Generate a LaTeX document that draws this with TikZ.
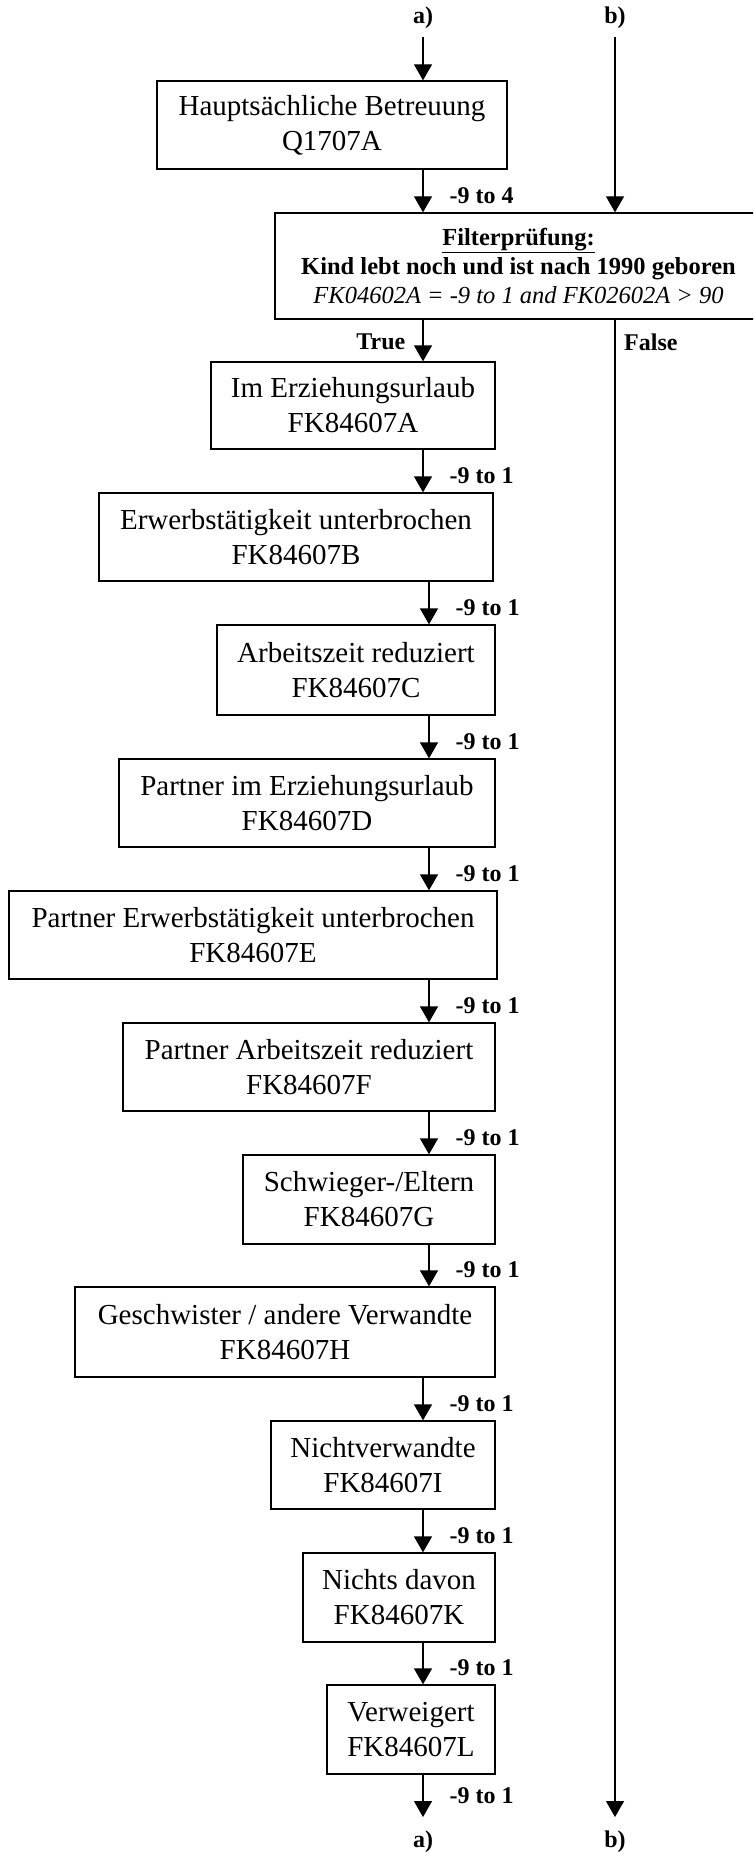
\documentclass[tikz,border=0pt]{standalone}
\usepackage{fontspec}
\setmainfont{Liberation Serif}
\usetikzlibrary{arrows.meta}
\tikzset{
  box/.style={draw, line width=1.3pt, align=center, inner sep=0pt, font=\fontsize{29}{35}\selectfont},
  arr/.style={line width=1.3pt, -{Triangle[length=16pt,width=18pt]}},
  lbl/.style={font=\fontsize{24}{29}\selectfont\bfseries, inner sep=0pt},
  edgelbl/.style={lbl, pos=0.6, anchor=west, xshift=26pt},
}
\begin{document}
\begin{tikzpicture}[x=1pt,y=-1pt]
\useasboundingbox (0,0) rectangle (753,1854);
\clip (0,0) rectangle (753,1854);
\coordinate (ax1) at (423,0);
\coordinate (ax2) at (429,0);
\coordinate (ta) at (423,37);
\coordinate (tb) at (615,37);
\coordinate (outa) at (423,1817);
\coordinate (outb) at (615,1817);

\node[lbl] (la) at (423,18) {a)};
\node[lbl] (lb) at (615,18) {b)};
\node[lbl] (la2) at (423,1842) {a)};
\node[lbl] (lb2) at (615,1842) {b)};

\node[box, minimum width=350, minimum height=88] (q) at (332,125) {Hauptsächliche Betreuung\\Q1707A};
\node[draw, line width=1.3pt, align=center, inner sep=0pt, minimum width=487, minimum height=106,
      font=\fontsize{24.5}{29}\selectfont\bfseries] (fil) at (518.5,266)
  {\underline{Filterprüfung:}\\Kind lebt noch und ist nach 1990 geboren\\{\mdseries\itshape FK04602A = -9 to 1 and FK02602A > 90}};
\node[box, minimum width=284, minimum height=87] (A) at (353,405.5) {Im Erziehungsurlaub\\FK84607A};
\node[box, minimum width=394, minimum height=88] (B) at (296,537) {Erwerbstätigkeit unterbrochen\\FK84607B};
\node[box, minimum width=278, minimum height=90] (C) at (356,670) {Arbeitszeit reduziert\\FK84607C};
\node[box, minimum width=376, minimum height=88] (D) at (307,803) {Partner im Erziehungsurlaub\\FK84607D};
\node[box, minimum width=488, minimum height=88] (E) at (253,935) {Partner Erwerbstätigkeit unterbrochen\\FK84607E};
\node[box, minimum width=372, minimum height=88] (F) at (309,1067) {Partner Arbeitszeit reduziert\\FK84607F};
\node[box, minimum width=252, minimum height=89] (G) at (369,1199.5) {Schwieger-/Eltern\\FK84607G};
\node[box, minimum width=420, minimum height=90] (H) at (285,1332) {Geschwister / andere Verwandte\\FK84607H};
\node[box, minimum width=224, minimum height=88] (I) at (383,1465) {Nichtverwandte\\FK84607I};
\node[box, minimum width=192, minimum height=89] (K) at (399,1597.5) {Nichts davon\\FK84607K};
\node[box, minimum width=168, minimum height=89] (L) at (411,1729.5) {Verweigert\\FK84607L};

\draw[arr] (ta) -- (q.north -| ta);
\draw[arr] (tb) -- (fil.north -| tb);
\draw[arr] (q.south -| ax1) -- (fil.north -| ax1) node[edgelbl] {-9 to 4};
\draw[arr] (fil.south -| ax1) -- (A.north -| ax1) node[lbl, pos=0.53, anchor=east, xshift=-17pt] {True};
\draw[arr] (fil.south -| tb) -- (outb);
\node[lbl, anchor=west] (false) at (624,342) {False};
\draw[arr] (A.south -| ax1) -- (B.north -| ax1) node[edgelbl] {-9 to 1};
\draw[arr] (B.south -| ax2) -- (C.north -| ax2) node[edgelbl] {-9 to 1};
\draw[arr] (C.south -| ax2) -- (D.north -| ax2) node[edgelbl] {-9 to 1};
\draw[arr] (D.south -| ax2) -- (E.north -| ax2) node[edgelbl] {-9 to 1};
\draw[arr] (E.south -| ax2) -- (F.north -| ax2) node[edgelbl] {-9 to 1};
\draw[arr] (F.south -| ax2) -- (G.north -| ax2) node[edgelbl] {-9 to 1};
\draw[arr] (G.south -| ax2) -- (H.north -| ax2) node[edgelbl] {-9 to 1};
\draw[arr] (H.south -| ax1) -- (I.north -| ax1) node[edgelbl] {-9 to 1};
\draw[arr] (I.south -| ax1) -- (K.north -| ax1) node[edgelbl] {-9 to 1};
\draw[arr] (K.south -| ax1) -- (L.north -| ax1) node[edgelbl] {-9 to 1};
\draw[arr] (L.south -| ax1) -- (outa) node[lbl, pos=0.5, anchor=west, xshift=26pt] {-9 to 1};
\end{tikzpicture}
\end{document}
